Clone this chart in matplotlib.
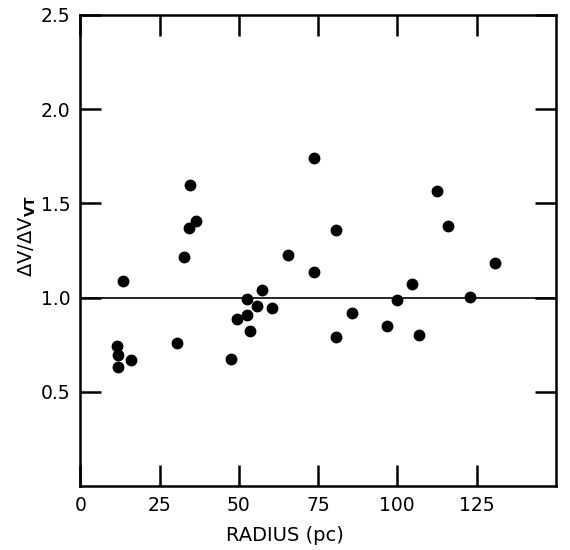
import matplotlib
matplotlib.use("Agg")
import matplotlib.pyplot as plt

# Datos
radius = [11.7, 11.9, 11.9, 13.6, 15.9, 30.6, 32.6, 34.3, 34.6, 36.5,
          47.5, 49.4, 52.6, 52.6, 53.6, 55.8, 57.4, 60.4, 65.6, 73.6,
          73.6, 80.8, 80.6, 85.7, 96.6, 99.8, 104.7, 106.9, 112.6, 115.9,
          122.8, 130.9]
ratio = [0.745, 0.694, 0.631, 1.090, 0.669, 0.757, 1.218, 1.367, 1.596, 1.408,
         0.676, 0.885, 0.993, 0.906, 0.821, 0.954, 1.039, 0.947, 1.227, 1.739,
         1.138, 1.358, 0.789, 0.917, 0.849, 0.988, 1.073, 0.803, 1.564, 1.380,
         1.005, 1.185]

x_ticks = [0, 25, 50, 75, 100, 125]
y_ticks = [0.5, 1.0, 1.5, 2.0, 2.5]

plt.rcParams['font.family'] = ['DejaVu Sans']

fig = plt.figure(figsize=(5.7, 5.5), dpi=100)
ax = fig.add_axes([0.141, 0.116, 0.834, 0.857])

ax.plot(radius, ratio, 'o', color="black", markersize=7.5, linestyle="none")
ax.axhline(1.0, color="black", linewidth=1.2)

ax.set_xlim(0, 150)
ax.set_ylim(0, 2.5)
ax.set_xticks(x_ticks)
ax.set_yticks(y_ticks)
ax.set_yticklabels(["0.5", "1.0", "1.5", "2.0", "2.5"])

ax.tick_params(direction="in", length=15, width=1.8, labelsize=13.5,
               top=True, right=True, pad=7)
for s in ax.spines.values():
    s.set_linewidth(1.8)

ax.set_xlabel("RADIUS (pc)", fontsize=14, labelpad=8)
ax.set_ylabel(r"$\Delta$V/$\Delta$V$_{\mathbf{VT}}$", fontsize=14, labelpad=2)
# la etiqueta del original no esta centrada
ax.xaxis.label.set_x(0.43)
ax.yaxis.label.set_y(0.53)

fig.savefig("out.png", dpi=100)
